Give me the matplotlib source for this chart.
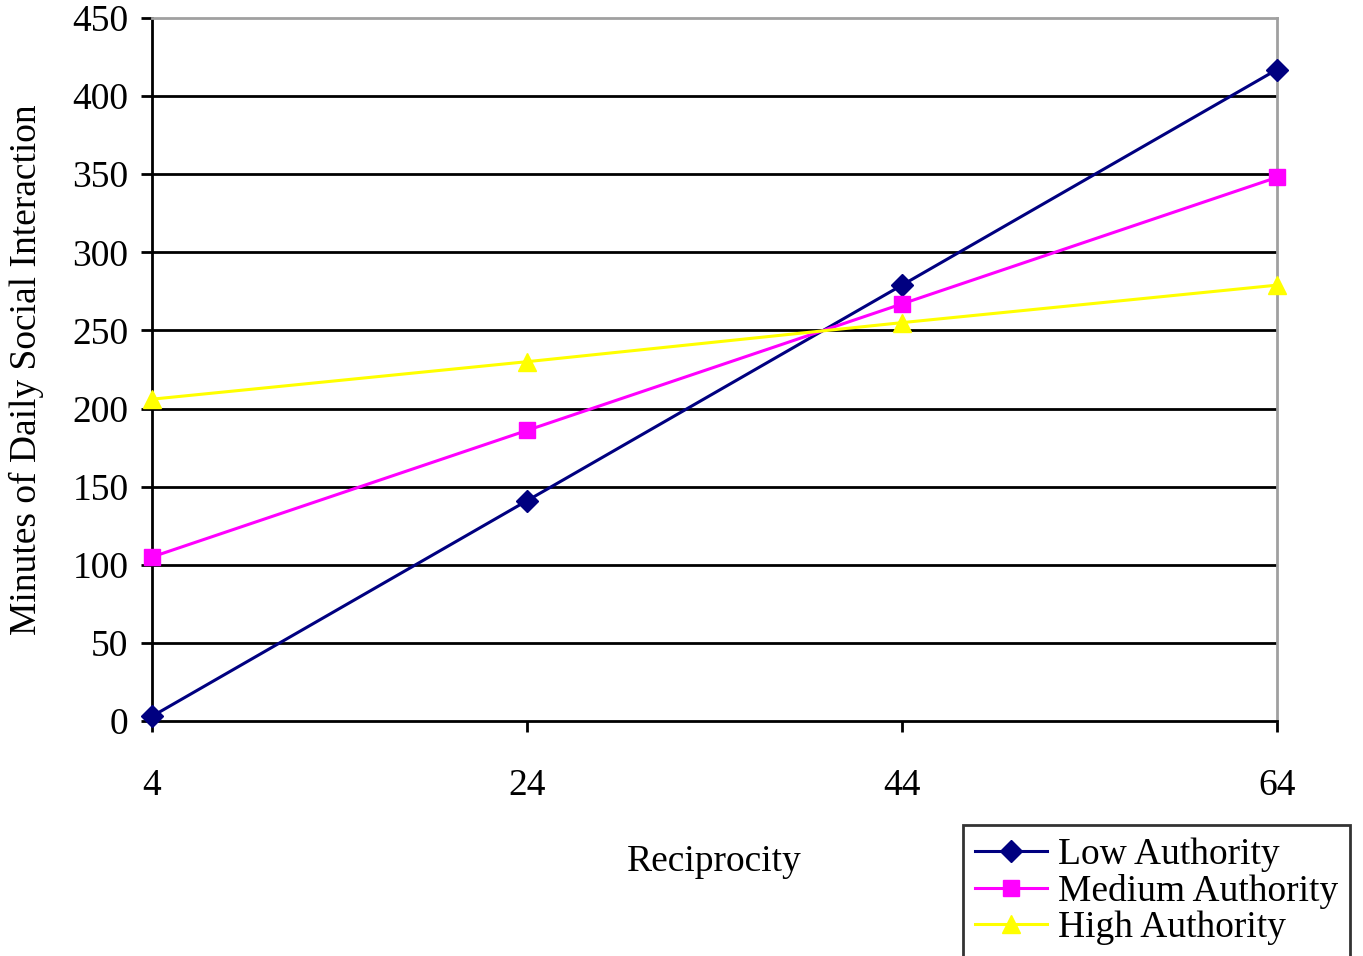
import matplotlib
matplotlib.use("Agg")
import matplotlib.pyplot as plt

reciprocity = [4, 24, 44, 64]
low_authority = [3, 141, 279, 417]
medium_authority = [105, 186, 267, 348]
high_authority = [206, 230, 255, 279]
y_ticks = [0, 50, 100, 150, 200, 250, 300, 350, 400, 450]

plt.rcParams['font.family'] = ['Liberation Serif', 'DejaVu Serif']

fig = plt.figure(figsize=(13.63, 9.56), dpi=100)
ax = fig.add_axes([152/1363, 1 - 721/956, (1277-152)/1363, (721-18)/956])

for yv in y_ticks[1:-1]:
    ax.axhline(yv, color='black', lw=2.0, zorder=1)

l1, = ax.plot(reciprocity, low_authority, color='#000080', marker='D', markersize=11, lw=2.2, label='Low Authority', zorder=3, clip_on=False)
l2, = ax.plot(reciprocity, medium_authority, color='#FF00FF', marker='s', markersize=12, lw=2.2, label='Medium Authority', zorder=3, clip_on=False)
l3, = ax.plot(reciprocity, high_authority, color='#FFFF00', marker='^', markersize=13, lw=2.2, label='High Authority', zorder=3, clip_on=False)

ax.set_xlim(4, 64)
ax.set_ylim(0, 450)
ax.set_xticks(reciprocity)
ax.set_xticklabels([str(v) for v in reciprocity])
ax.set_yticks(y_ticks)

for s in ['left', 'bottom']:
    ax.spines[s].set_color('black')
    ax.spines[s].set_linewidth(2.0)
for s in ['top', 'right']:
    ax.spines[s].set_color('#A0A0A0')
    ax.spines[s].set_linewidth(2.0)

ax.tick_params(axis='x', direction='out', length=8, width=2, labelsize=27, pad=26)
ax.tick_params(axis='y', direction='out', length=8, width=2, labelsize=27, pad=9)

ax.set_xlabel('Reciprocity', fontsize=27, labelpad=30)
ax.set_ylabel('Minutes of Daily Social Interaction', fontsize=27, labelpad=20)

leg = fig.legend(handles=[l1, l2, l3], loc='upper left', bbox_to_anchor=(963/1363, 1 - 825/956),
                 fontsize=27, frameon=True, fancybox=False, edgecolor='black',
                 handlelength=1.9, handletextpad=0.3, labelspacing=0.05, borderpad=0.33,
                 borderaxespad=0)
leg.get_frame().set_linewidth(2.0)

fig.savefig('out.png', dpi=100)
